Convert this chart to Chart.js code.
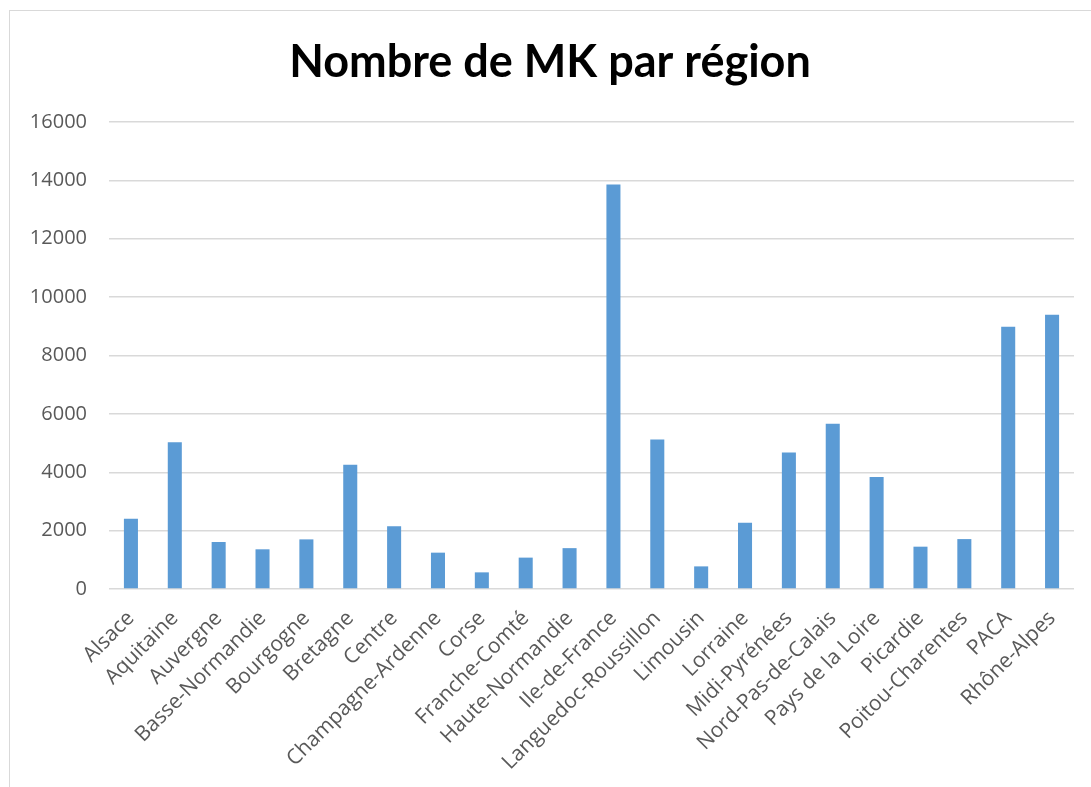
<!DOCTYPE html>
<html>
<head>
<meta charset="utf-8">
<script src="https://cdn.jsdelivr.net/npm/chart.js@4"></script>
<style>
  html, body { margin: 0; padding: 0; background: #fff; overflow: hidden; }
  #frame { position: absolute; left: 9px; top: 10px; width: 1100px; height: 800px; border: 1.5px solid #d9d9d9; }
  #wrap { position: absolute; left: 0; top: 0; width: 1091px; height: 787px; }
</style>
</head>
<body>
<div id="frame"></div>
<div id="wrap"><canvas id="mkChart"></canvas></div>
<script>
const regions = [
  'Alsace', 'Aquitaine', 'Auvergne', 'Basse-Normandie', 'Bourgogne', 'Bretagne',
  'Centre', 'Champagne-Ardenne', 'Corse', 'Franche-Comté', 'Haute-Normandie',
  'Ile-de-France', 'Languedoc-Roussillon', 'Limousin', 'Lorraine', 'Midi-Pyrénées',
  'Nord-Pas-de-Calais', 'Pays de la Loire', 'Picardie', 'Poitou-Charentes', 'PACA', 'Rhône-Alpes'
];
const mkCounts = [
  2410, 5030, 1610, 1360, 1700, 4260,
  2150, 1245, 570, 1075, 1400,
  13860, 5125, 775, 2270, 4680,
  5660, 3835, 1450, 1710, 8985, 9395
];
const yMax = 16000;
const yStep = 2000;

const labelColor = '#595959';
const gridColor = '#d9d9d9';

new Chart(document.getElementById('mkChart'), {
  type: 'bar',
  data: {
    labels: regions,
    datasets: [{
      label: 'Nombre de MK',
      data: mkCounts,
      backgroundColor: '#5b9bd5',
      borderWidth: 0,
      categoryPercentage: 1,
      barPercentage: 0.32
    }]
  },
  options: {
    responsive: true,
    maintainAspectRatio: false,
    animation: false,
    layout: { padding: { left: 26, right: 17, top: 0, bottom: 0 } },
    plugins: {
      legend: { display: false },
      tooltip: { enabled: false },
      title: {
        display: true,
        text: 'Nombre de MK par région',
        color: '#000',
        font: { family: 'Lato', size: 45, weight: 'bold', lineHeight: 1.0 },
        padding: { top: 40, bottom: 37 }
      }
    },
    scales: {
      x: {
        grid: { display: false, drawTicks: false },
        border: { display: false },
        ticks: {
          color: labelColor,
          font: { family: 'Open Sans', size: 21 },
          autoSkip: false,
          maxRotation: 45,
          minRotation: 45,
          padding: 17
        },
        afterFit: (axis) => { axis.height = 198; }
      },
      y: {
        min: 0,
        max: yMax,
        grid: { color: gridColor, lineWidth: 1.5, drawTicks: false },
        border: { display: false },
        ticks: {
          stepSize: yStep,
          color: labelColor,
          font: { family: 'Open Sans', size: 20 },
          padding: 22,
          callback: (v) => String(v)
        },
        afterFit: (axis) => { axis.width = 83; }
      }
    }
  }
});
</script>
</body>
</html>
